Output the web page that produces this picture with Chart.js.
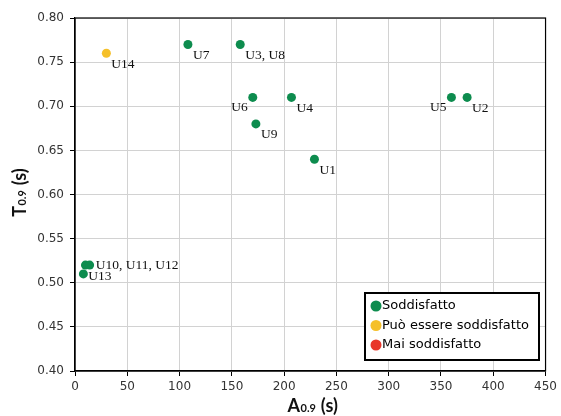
<!DOCTYPE html>
<html>
<head>
<meta charset="utf-8">
<script src="https://cdn.jsdelivr.net/npm/chart.js@4"></script>
<style>
  html, body { margin: 0; padding: 0; background: #fff; }
  #wrap { width: 561px; height: 416px; }
</style>
</head>
<body>
<div id="wrap"><canvas id="chart"></canvas></div>
<script>
// satisfied users
const greenX = [229, 375, 158, 207, 360, 170, 108, 173, 10, 14, 8];
const greenY = [0.64, 0.71, 0.77, 0.71, 0.71, 0.71, 0.77, 0.68, 0.52, 0.52, 0.51];
const greenLabels = ["U1", "U2", "U3, U8", "U4", "U5", "U6", "U7", "U9", "", "U10, U11, U12", "U13"];

// can be satisfied
const yellowX = [30];
const yellowY = [0.76];
const yellowLabels = ["U14"];

// never satisfied (no users)
const redX = [];
const redY = [];
const redLabels = [];

const seriesNames = ["Soddisfatto", "Può essere soddisfatto", "Mai soddisfatto"];
const xTicks = [0, 50, 100, 150, 200, 250, 300, 350, 400, 450];
const yTicks = [0.40, 0.45, 0.50, 0.55, 0.60, 0.65, 0.70, 0.75, 0.80];

const colors = ["#0d8c4e", "#f5c02a", "#e8362a"];

const toPoints = (xs, ys) => xs.map((x, i) => ({ x, y: ys[i] }));

// labels placed to the left of their point
const leftLabels = ["U5", "U6"];

const pointLabels = {
  id: "pointLabels",
  afterDatasetsDraw(chart) {
    const ctx = chart.ctx;
    ctx.save();
    ctx.font = "13.5px 'Liberation Serif', serif";
    ctx.fillStyle = "#111";
    ctx.textBaseline = "middle";
    chart.data.datasets.forEach((ds, di) => {
      const meta = chart.getDatasetMeta(di);
      ds.labels.forEach((txt, i) => {
        if (!txt) return;
        const el = meta.data[i];
        if (leftLabels.includes(txt)) {
          ctx.textAlign = "right";
          ctx.fillText(txt, el.x - 5, el.y + 10);
        } else if (txt.startsWith("U10")) {
          ctx.textAlign = "left";
          ctx.fillText(txt, el.x + 6, el.y);
        } else if (txt === "U13") {
          ctx.textAlign = "left";
          ctx.fillText(txt, el.x + 5, el.y + 3);
        } else {
          ctx.textAlign = "left";
          ctx.fillText(txt, el.x + 5, el.y + 11);
        }
      });
    });
    ctx.restore();
  }
};

const frameAndTitles = {
  id: "frameAndTitles",
  afterDraw(chart) {
    const ctx = chart.ctx;
    const a = chart.chartArea;
    ctx.save();
    // frame
    ctx.strokeStyle = "#000";
    ctx.lineWidth = 1.2;
    ctx.strokeRect(a.left, a.top, a.right - a.left, a.bottom - a.top);

    // axis titles with subscripts
    const big = "bold 18px Lato, sans-serif";
    const small = "bold 11px Lato, sans-serif";
    const drawTitle = (main, sub, tail) => {
      ctx.font = big;
      const w1 = ctx.measureText(main).width;
      const w3 = ctx.measureText(tail).width;
      ctx.font = small;
      const w2 = ctx.measureText(sub).width;
      let x = -(w1 + w2 + w3) / 2;
      ctx.textAlign = "left";
      ctx.textBaseline = "alphabetic";
      ctx.font = big;
      ctx.fillText(main, x, 0);
      x += w1;
      ctx.font = small;
      ctx.fillText(sub, x + 0.5, 0);
      x += w2 + 1;
      ctx.font = big;
      ctx.fillText(tail, x, 0);
    };
    ctx.fillStyle = "#111";
    ctx.save();
    ctx.translate((a.left + a.right) / 2 + 2, 412);
    drawTitle("A", "0.9", " (s)");
    ctx.restore();
    ctx.save();
    ctx.translate(26, 193);
    ctx.rotate(-Math.PI / 2);
    drawTitle("T", "0.9", " (s)");
    ctx.restore();

    // legend box
    const lx = 365, ly = 293, lw = 174, lh = 67;
    ctx.fillStyle = "#fff";
    ctx.fillRect(lx, ly, lw, lh);
    ctx.strokeStyle = "#000";
    ctx.lineWidth = 2;
    ctx.strokeRect(lx, ly, lw, lh);
    ctx.font = "13px 'DejaVu Sans', sans-serif";
    ctx.textBaseline = "middle";
    chart.data.datasets.forEach((ds, i) => {
      const cy = ly + 13 + i * 19.5;
      ctx.beginPath();
      ctx.fillStyle = ds.backgroundColor;
      ctx.arc(lx + 11, cy, 5.5, 0, Math.PI * 2);
      ctx.fill();
      ctx.fillStyle = "#000";
      ctx.fillText(ds.label, lx + 17, cy);
    });
    ctx.restore();
  }
};

new Chart(document.getElementById("chart"), {
  type: "scatter",
  data: {
    datasets: [
      { label: seriesNames[0], data: toPoints(greenX, greenY), labels: greenLabels, backgroundColor: colors[0] },
      { label: seriesNames[1], data: toPoints(yellowX, yellowY), labels: yellowLabels, backgroundColor: colors[1] },
      { label: seriesNames[2], data: toPoints(redX, redY), labels: redLabels, backgroundColor: colors[2] }
    ]
  },
  options: {
    responsive: true,
    maintainAspectRatio: false,
    animation: false,
    layout: { padding: { top: 18, right: 13, left: 0, bottom: 0 } },
    elements: { point: { radius: 4.5, borderWidth: 0, hoverRadius: 4.5 } },
    plugins: {
      legend: { display: false },
      tooltip: { enabled: false }
    },
    scales: {
      x: {
        type: "linear",
        min: 0, max: 450,
        afterBuildTicks: s => { s.ticks = xTicks.map(v => ({ value: v })); },
        afterFit: s => { s.height = 45; },
        grid: { color: "#d2d2d2", tickColor: "#000", tickLength: 5, lineWidth: 1 },
        border: { color: "#000", width: 1.2 },
        ticks: { color: "#333", font: { family: "'DejaVu Sans', sans-serif", size: 12 }, padding: 4, maxRotation: 0 }
      },
      y: {
        type: "linear",
        min: 0.4, max: 0.8,
        afterBuildTicks: s => { s.ticks = yTicks.map(v => ({ value: v })); },
        afterFit: s => { s.width = 75; },
        grid: { color: "#d2d2d2", tickColor: "#000", tickLength: 5, lineWidth: 1 },
        border: { color: "#000", width: 1.2 },
        ticks: {
          color: "#333", font: { family: "'DejaVu Sans', sans-serif", size: 12 }, padding: 6,
          callback: v => v.toFixed(2)
        }
      }
    }
  },
  plugins: [pointLabels, frameAndTitles]
});
</script>
</body>
</html>
